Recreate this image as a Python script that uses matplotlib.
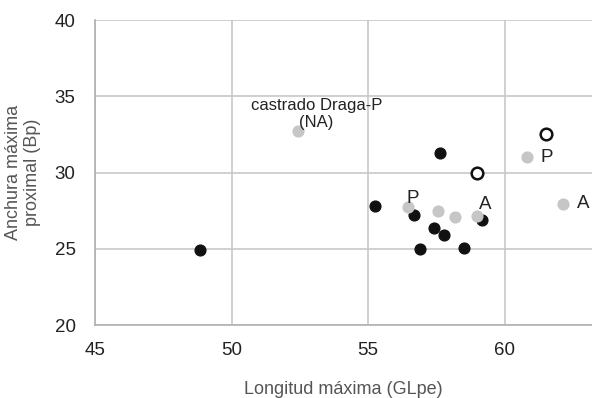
import matplotlib
matplotlib.use("Agg")
import matplotlib.pyplot as plt

plt.rcParams['font.family'] = ['Liberation Sans', 'DejaVu Sans']

# black points
black_x = [48.85, 55.26, 56.68, 56.9, 57.42, 57.64, 57.78, 58.5, 59.18]
black_y = [24.9, 27.8, 27.2, 25.0, 26.35, 31.3, 25.9, 25.05, 26.9]

# gray points
gray_x = [52.44, 56.47, 57.56, 58.19, 58.99, 60.82, 62.14]
gray_y = [32.7, 27.75, 27.5, 27.1, 27.15, 31.0, 27.95]

# open circles
open_x = [58.99, 61.52]
open_y = [29.97, 32.52]

# labels: text, x, y (point they belong to)
labels = [("P", 56.47, 27.75), ("A", 58.99, 27.15), ("P", 60.82, 31.0), ("A", 62.14, 27.95)]

fig = plt.figure(figsize=(5.92, 3.98), dpi=100)
ax = fig.add_axes([0.1605, 0.1834, 0.8395, 0.7663])

ax.set_xlim(45, 63.2)
ax.set_ylim(20, 40)
ax.set_xticks([45, 50, 55, 60])
ax.set_yticks([20, 25, 30, 35, 40])
ax.grid(True, color='#c8c8c8', linewidth=1.2)
ax.set_axisbelow(True)
for s in ['top', 'right']:
    ax.spines[s].set_visible(False)
for s in ['left', 'bottom']:
    ax.spines[s].set_color('#b0b0b0')
    ax.spines[s].set_linewidth(1.2)
ax.tick_params(length=0, labelsize=13.5, colors='#222222')
ax.tick_params(axis='y', pad=14)
ax.tick_params(axis='x', pad=12)

ax.scatter(black_x, black_y, s=60, color='#111111', zorder=3)
ax.scatter(gray_x, gray_y, s=60, color='#c6c6c6', zorder=3)
ax.scatter(open_x, open_y, s=70, facecolor='white', edgecolor='#111111', linewidth=1.8, zorder=3)

# offsets in points for each label (above / right of its point)
offs = [(3, 0, 'above'), (6, 2, 'above'), (10, 0, 'right'), (10, 0, 'right')]
for (t, x, y), (dx, dy, where) in zip(labels, offs):
    if where == 'above':
        ax.annotate(t, (x, y), xytext=(dx, dy), textcoords='offset points',
                    ha='center', va='bottom', fontsize=13.5, color='#222222')
    else:
        ax.annotate(t, (x, y), xytext=(dx, dy), textcoords='offset points',
                    ha='left', va='center', fontsize=13.5, color='#222222')

ax.annotate("castrado Draga-P\n(NA)", (52.44, 32.7), xytext=(13, 1), textcoords='offset points',
            ha='center', va='bottom', fontsize=12, color='#222222', linespacing=1.15)

ax.set_xlabel("Longitud máxima (GLpe)", fontsize=13, color='#555555', labelpad=16)
ax.set_ylabel("Anchura máxima\nproximal (Bp)", fontsize=13, color='#555555', labelpad=10,
              linespacing=1.1)

fig.savefig("out.png", dpi=100)
